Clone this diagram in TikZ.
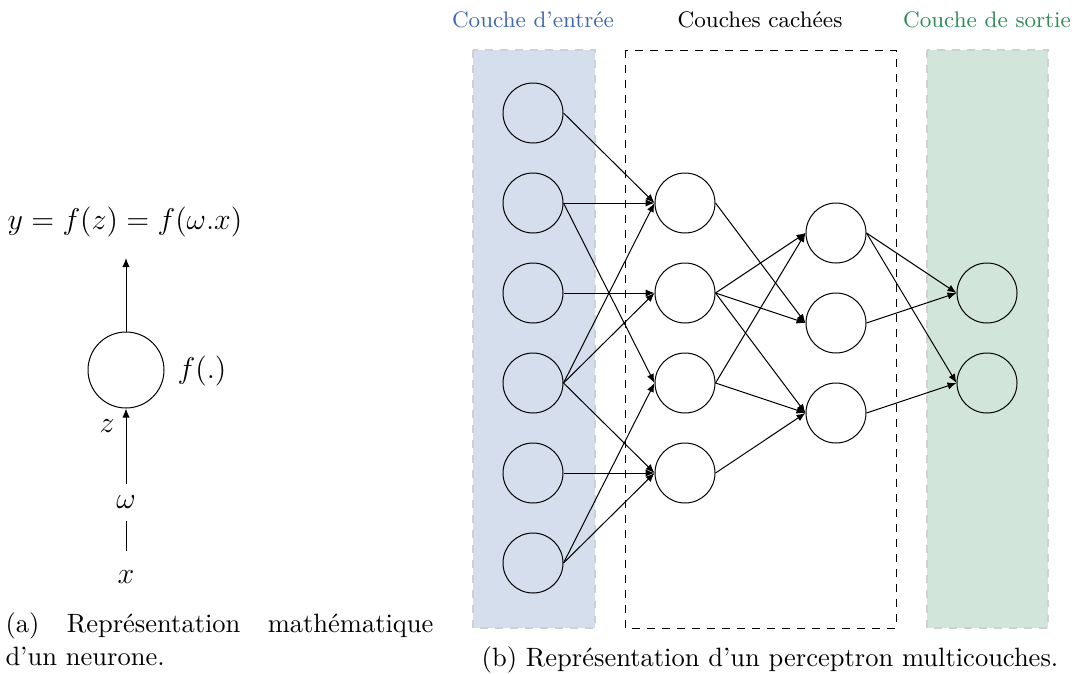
\documentclass[tikz,border=0pt]{standalone}
\usetikzlibrary{arrows.meta}
\definecolor{inblue}{RGB}{212,222,236}
\definecolor{outgreen}{RGB}{209,229,219}
\definecolor{txtblue}{RGB}{65,105,176}
\definecolor{txtgreen}{RGB}{46,139,87}
\definecolor{edgegray}{RGB}{205,208,212}
\begin{document}
\begin{tikzpicture}[x=0.4pt,y=-0.4pt,
  neuron/.style={draw,circle,minimum size=24pt,inner sep=0pt,line width=0.4pt},
  bigneuron/.style={draw,circle,minimum size=30.4pt,inner sep=0pt,line width=0.4pt},
  conn/.style={-{Latex[length=3.6pt,width=2.9pt]},line width=0.4pt},
  layerbox/.style={draw=edgegray,dashed,line width=0.6pt},
  lbl/.style={font=\fontsize{9}{11}\selectfont,inner sep=0pt},
  mth/.style={font=\fontsize{11.6}{14}\selectfont,inner sep=0pt},
  captxt/.style={font=\fontsize{10.6}{13.2}\selectfont,inner sep=0pt}]
\useasboundingbox (0,0) rectangle (1078,673);
% layer boxes
\path[layerbox,fill=inblue] (473,50) rectangle (595,628);
\path[layerbox,fill=outgreen] (927,50) rectangle (1048,628);
\draw[dashed,line width=0.4pt] (625,50) rectangle (896,628);
\node[lbl,text=txtblue] (tin) at (533,20) {Couche d'entrée};
\node[lbl] (thid) at (760,20) {Couches cachées};
\node[lbl,text=txtgreen] (tout) at (987,20) {Couche de sortie};
% input layer
\foreach \i/\y in {1/113,2/203,3/293,4/383,5/473,6/563}
  \node[neuron] (I\i) at (533,\y) {};
\foreach \i/\y in {1/203,2/293,3/383,4/473}
  \node[neuron] (H\i) at (685,\y) {};
\foreach \i/\y in {1/233,2/323,3/413}
  \node[neuron] (B\i) at (836,\y) {};
\foreach \i/\y in {1/293,2/383}
  \node[neuron] (O\i) at (987,\y) {};
% connections
\foreach \a/\b in {I1/H1,I2/H1,I2/H3,I3/H2,I4/H1,I4/H2,I4/H4,I5/H4,I6/H3,I6/H4,
  H1/B2,H2/B1,H2/B2,H2/B3,H3/B1,H3/B3,H4/B3,B1/O1,B1/O2,B2/O1,B3/O2}
  \draw[conn] (\a.east) -- (\b.west);
% single neuron
\node[bigneuron] (N) at (126,370) {};
\node[mth] (y) at (125,222) {$y=f(z)=f(\omega.x)$};
\coordinate (ytop) at (126,258);
\node[mth] (f) at (202,371) {$f(.)$};
\node[mth] (w) at (126,502) {$\omega$};
\node[mth] (xx) at (126,577) {$x$};
\node[mth] (z) at (107,426) {$z$};
\coordinate (wtop) at (126,484);
\coordinate (wb) at (126,521);
\coordinate (xt) at (126,551);
\draw[conn] (N.north) -- (ytop);
\draw[conn] (wtop) -- (N.south);
\draw[line width=0.4pt] (wb) -- (xt);
% captions
\node[captxt,anchor=north west,text width=171.2pt,align=justify] (capa) at (5,612)
  {(a) Représentation mathématique\linebreak d'un neurone.};
\node[captxt] (capb) at (770,660) {(b) Représentation d'un perceptron multicouches.};
\end{tikzpicture}
\end{document}
